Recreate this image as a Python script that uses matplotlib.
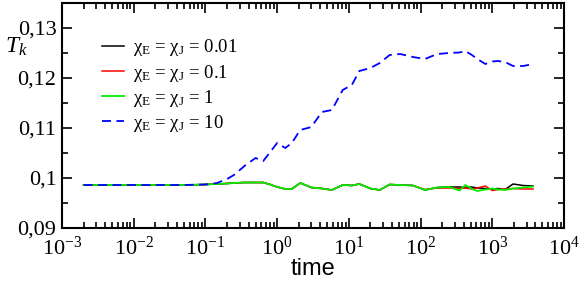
import matplotlib
matplotlib.use("Agg")
import matplotlib.pyplot as plt
from matplotlib import font_manager
from matplotlib.font_manager import FontProperties
from matplotlib.ticker import FixedLocator, LogFormatterMathtext, NullFormatter

plt.rcParams['font.family'] = 'Liberation Serif'
plt.rcParams['mathtext.fontset'] = 'custom'
plt.rcParams['mathtext.rm'] = 'Liberation Serif'
plt.rcParams['mathtext.it'] = 'Liberation Serif:italic'

serif_path = font_manager.findfont(FontProperties(family='Liberation Serif'))

# ---- data ----
time = [0.002, 0.01, 0.05, 0.1, 0.145, 0.2, 0.25, 0.35, 0.5, 0.64, 0.8, 1.0, 1.3, 1.6,
        2.1, 3.0, 4.2, 5.8, 8.2, 11, 14, 20, 27, 37, 52, 78, 115, 170, 250, 350,
        420, 520, 620, 800, 1000, 1200, 1500, 1950, 2700, 3700]

tk_001 = [0.0986, 0.0986, 0.0986, 0.0987, 0.0988, 0.0989, 0.0990, 0.0991, 0.0991, 0.0991,
          0.0987, 0.0982, 0.0978, 0.0978, 0.0990, 0.0981, 0.0979, 0.0976, 0.0986, 0.0985,
          0.0988, 0.0979, 0.0976, 0.0987, 0.0986, 0.0985, 0.0976, 0.0981, 0.0982, 0.0982,
          0.0981, 0.0982, 0.0980, 0.0979, 0.0978, 0.0979, 0.0977, 0.0988, 0.0985, 0.0984]

tk_01 = [0.0986, 0.0986, 0.0986, 0.0987, 0.0988, 0.0989, 0.0990, 0.0991, 0.0991, 0.0991,
         0.0987, 0.0982, 0.0978, 0.0978, 0.0990, 0.0981, 0.0979, 0.0976, 0.0986, 0.0985,
         0.0988, 0.0979, 0.0976, 0.0987, 0.0986, 0.0985, 0.0977, 0.0980, 0.0980, 0.0979,
         0.0980, 0.0978, 0.0980, 0.0984, 0.0975, 0.0977, 0.0978, 0.0979, 0.0978, 0.0978]

tk_1 = [0.0986, 0.0986, 0.0986, 0.0987, 0.0988, 0.0989, 0.0990, 0.0991, 0.0991, 0.0991,
        0.0987, 0.0982, 0.0978, 0.0978, 0.0990, 0.0981, 0.0979, 0.0976, 0.0986, 0.0985,
        0.0988, 0.0979, 0.0976, 0.0987, 0.0986, 0.0985, 0.0976, 0.0981, 0.0982, 0.0975,
        0.0986, 0.0978, 0.0974, 0.0977, 0.0979, 0.0977, 0.0976, 0.0979, 0.0981, 0.0983]

tk_10 = [0.0986, 0.0986, 0.0986, 0.0987, 0.0990, 0.0998, 0.1006, 0.1024, 0.1040, 0.1034,
         0.1052, 0.1070, 0.1060, 0.1070, 0.1096, 0.1102, 0.1132, 0.1136, 0.1176, 0.1186,
         0.1214, 0.1220, 0.1230, 0.1246, 0.1248, 0.1242, 0.1238, 0.1248, 0.1250, 0.1251,
         0.1254, 0.1246, 0.1238, 0.1228, 0.1233, 0.1234, 0.1232, 0.1224, 0.1224, 0.1228]

labels = ['χ$_{\\rm E}$ = χ$_{\\rm J}$ = 0.01',
          'χ$_{\\rm E}$ = χ$_{\\rm J}$ = 0.1',
          'χ$_{\\rm E}$ = χ$_{\\rm J}$ = 1',
          'χ$_{\\rm E}$ = χ$_{\\rm J}$ = 10']

xticks = [1e-3, 1e-2, 1e-1, 1e0, 1e1, 1e2, 1e3, 1e4]
yticks = [0.09, 0.10, 0.11, 0.12, 0.13]
yticklabels = ['0,09', '0,1', '0,11', '0,12', '0,13']

# ---- figure ----
fig = plt.figure(figsize=(5.81, 2.83), dpi=100)
ax = fig.add_axes([62/581, 55/283, 502/581, 225/283])

ax.plot(time, tk_001, color='black', lw=1.1, label=labels[0])
ax.plot(time, tk_01, color='red', lw=1.1, label=labels[1])
ax.plot(time, tk_1, color='#00ee00', lw=1.3, label=labels[2])
ax.plot(time, tk_10, color='#0000ff', lw=1.3, ls=(0, (5, 3)), label=labels[3])

ax.set_xscale('log')
ax.set_xlim(xticks[0], xticks[-1])
ax.set_ylim(0.09, 0.135)

minor_x = [m * d for d in xticks[:-1] for m in range(2, 10)]
ax.xaxis.set_major_locator(FixedLocator(xticks))
ax.xaxis.set_minor_locator(FixedLocator(minor_x))
ax.xaxis.set_major_formatter(LogFormatterMathtext())
ax.xaxis.set_minor_formatter(NullFormatter())

ax.set_yticks(yticks)
ax.set_yticklabels(yticklabels, fontproperties=FontProperties(fname=serif_path, size=16))
ax.yaxis.set_minor_locator(FixedLocator([0.095, 0.105, 0.115, 0.125]))

ax.tick_params(which='both', direction='in', top=True, right=True, width=1.2)
ax.tick_params(axis='x', which='major', length=7, labelsize=16, pad=6)
ax.tick_params(axis='y', which='major', length=7, pad=4)
ax.tick_params(which='minor', length=4)
for s in ax.spines.values():
    s.set_linewidth(1.5)

ax.set_xlabel('time', family='Liberation Sans', fontsize=17, labelpad=-1)

fig.text(5/581, 1 - 53/283, '$T_k$', fontsize=17, ha='left', va='baseline')

leg = ax.legend(loc='upper left', bbox_to_anchor=(0.065, 0.88), frameon=False,
                fontsize=13.5, handlelength=1.15, handletextpad=0.5, labelspacing=0.22,
                borderaxespad=0)

fig.savefig('out.png', dpi=100)
